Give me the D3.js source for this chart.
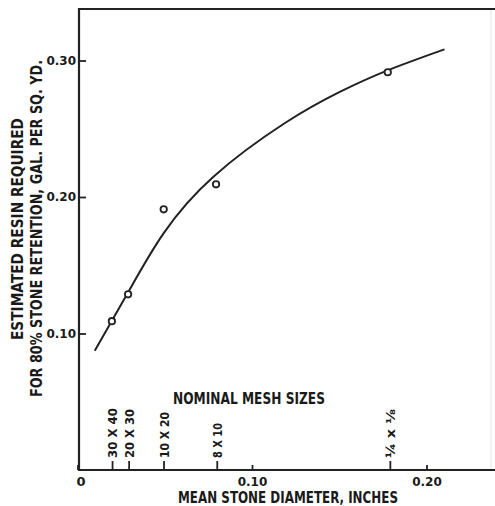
<!DOCTYPE html>
<html lang="en">
  <head>
    <meta charset="utf-8">
    <title>resin</title>
    <style>
      body { margin: 0; background: #fff; }
      text { font-family: "DejaVu Sans", sans-serif; font-weight: bold; fill: #1a1a1a; }
    </style>
  </head>
  <body>

<script src="https://d3js.org/d3.v7.min.js"></script>

<script>

// data
var pointX = [0.0197, 0.0290, 0.0494, 0.0794, 0.1778];
var pointY = [0.109, 0.1287, 0.191, 0.2093, 0.2914];

var curveX = [0.0099, 0.0291, 0.0493, 0.0779, 0.1189, 0.1503, 0.1777, 0.2103];
var curveY = [0.0874, 0.1304, 0.1734, 0.2149, 0.2542, 0.2770, 0.2928, 0.3082];

var meshSize = [0.0198, 0.0293, 0.0493, 0.0798, 0.179];
var meshLabels = ["30 X 40", "20 X 30", "10 X 20", "8 X 10", "\u00BC x \u215B"];
var meshLen = [50, 49, 46, 35, 49];

var xTicks = [0, 0.10, 0.20];
var yTicks = [0.10, 0.20, 0.30];

var W = 495, H = 506;
var plotLeft = 79, plotTop = 9, plotBottom = 470;

var svg = d3.select("body").append("svg")
            .attr("width", W)
            .attr("height", H);

var x = d3.scaleLinear().domain([0, 0.1]).range([77.5, 252]);
var y = d3.scaleLinear().domain([0, 0.3]).range([470, 60.5]);

// frame
svg.append("line").attr("x1", W - 4).attr("y1", plotTop).attr("x2", W - 4).attr("y2", plotBottom)
   .attr("stroke", "#e6e6e6").attr("stroke-width", 1);
svg.append("path")
   .attr("d", "M" + W + "," + plotTop + "H" + plotLeft + "V" + plotBottom + "H" + W)
   .attr("fill", "none").attr("stroke", "#222").attr("stroke-width", 2.2);

// y axis
svg.append("g")
   .attr("transform", "translate(" + plotLeft + ",0)")
   .call(d3.axisLeft(y).tickValues(yTicks).tickSize(-7).tickPadding(3).tickFormat(d3.format(".2f")))
   .call(function(g) { g.select(".domain").remove(); })
   .call(function(g) {
     g.selectAll("line").attr("stroke", "#222").attr("stroke-width", 1.8);
     g.selectAll("text").attr("font-size", 12).style("font-family", "DejaVu Sans").style("font-weight", "bold").attr("fill", "#1a1a1a");
   });

// x axis
svg.append("g")
   .attr("transform", "translate(0," + plotBottom + ")")
   .call(d3.axisBottom(x).tickValues(xTicks).tickSize(-5).tickPadding(7)
           .tickFormat(function(d) { return d === 0 ? "0" : d.toFixed(2); }))
   .call(function(g) { g.select(".domain").remove(); })
   .call(function(g) {
     g.selectAll("line").attr("stroke", "#222").attr("stroke-width", 1.8);
     g.selectAll("text").attr("font-size", 12).style("font-family", "DejaVu Sans").style("font-weight", "bold").attr("fill", "#1a1a1a");
     g.selectAll(".tick").filter(function(d) { return d === 0; }).select("text").attr("x", 3).attr("font-size", 13);
   });

// mesh size ticks
svg.append("g")
   .attr("transform", "translate(0," + plotBottom + ")")
   .call(d3.axisBottom(x).tickValues(meshSize).tickSize(-9)
           .tickFormat(function(d, i) { return meshLabels[i]; }))
   .call(function(g) { g.select(".domain").remove(); })
   .call(function(g) {
     g.selectAll("line").attr("stroke", "#222").attr("stroke-width", 1.8);
     g.selectAll("text")
      .attr("transform", "rotate(-90)")
      .attr("x", 12).attr("y", 0).attr("dy", "0.36em")
      .style("text-anchor", "start")
      .attr("font-size", 13)
      .style("font-family", "DejaVu Sans").style("font-weight", "bold").attr("fill", "#1a1a1a")
      .attr("textLength", function(d, i) { return meshLen[i]; })
      .attr("lengthAdjust", "spacingAndGlyphs");
   });

svg.append("text")
   .attr("x", 249).attr("y", 404)
   .attr("text-anchor", "middle")
   .attr("font-size", 15)
   .attr("textLength", 152).attr("lengthAdjust", "spacingAndGlyphs")
   .text("NOMINAL MESH SIZES");

// titles
svg.append("text")
   .attr("x", 288).attr("y", 503)
   .attr("text-anchor", "middle")
   .attr("font-size", 16)
   .attr("textLength", 220).attr("lengthAdjust", "spacingAndGlyphs")
   .text("MEAN STONE DIAMETER, INCHES");

svg.append("text")
   .attr("transform", "translate(23,229) rotate(-90)")
   .attr("text-anchor", "middle")
   .attr("font-size", 16)
   .attr("textLength", 222).attr("lengthAdjust", "spacingAndGlyphs")
   .text("ESTIMATED RESIN REQUIRED");

svg.append("text")
   .attr("transform", "translate(42,228.5) rotate(-90)")
   .attr("text-anchor", "middle")
   .attr("font-size", 16)
   .attr("textLength", 337).attr("lengthAdjust", "spacingAndGlyphs")
   .text("FOR 80% STONE RETENTION, GAL. PER SQ. YD.");

// fitted curve
var line = d3.line()
             .x(function(d, i) { return x(curveX[i]); })
             .y(function(d, i) { return y(curveY[i]); })
             .curve(d3.curveNatural);

svg.append("path")
   .datum(curveX)
   .attr("d", line)
   .attr("fill", "none")
   .attr("stroke", "#222")
   .attr("stroke-width", 2);

// measured points
svg.selectAll("circle.pt")
   .data(pointX)
   .enter().append("circle")
   .attr("class", "pt")
   .attr("cx", function(d) { return x(d); })
   .attr("cy", function(d, i) { return y(pointY[i]); })
   .attr("r", 3.2)
   .attr("fill", "#fff")
   .attr("stroke", "#222")
   .attr("stroke-width", 1.8);

</script>

  </body>
</html>
